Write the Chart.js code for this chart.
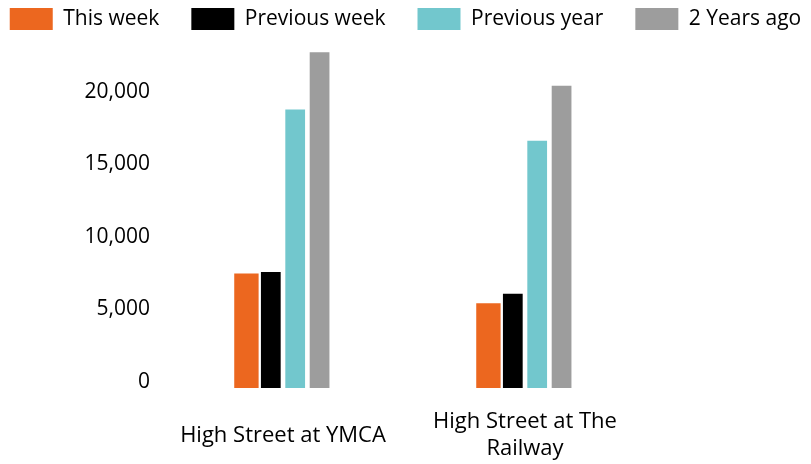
<!DOCTYPE html>
<html>
<head>
<meta charset="utf-8">
<script src="https://cdn.jsdelivr.net/npm/chart.js@4.4.1/dist/chart.umd.min.js"></script>
<style>
  html, body { margin: 0; padding: 0; background: #fff; }
  #wrap { width: 811px; height: 464px; }
</style>
</head>
<body>
<div id="wrap"><canvas id="chart"></canvas></div>
<script>
// counts per location
const categories = ['High Street at YMCA', ['High Street at The', 'Railway']];
const seriesNames = ['This week', 'Previous week', 'Previous year', '2 Years ago'];
const thisWeek = [7900, 5850];
const previousWeek = [8000, 6500];
const previousYear = [19200, 17050];
const twoYearsAgo = [23150, 20850];
const yTicks = [0, 5000, 10000, 15000, 20000];

const COLORS = ['#EC671F', '#000000', '#72C7CD', '#9D9D9D'];
const FONT = 'Open Sans';

const seriesValues = [thisWeek, previousWeek, previousYear, twoYearsAgo];

const datasets = seriesNames.map((name, i) => ({
  label: name,
  data: seriesValues[i],
  backgroundColor: COLORS[i],
  borderWidth: 0,
  categoryPercentage: 0.403,
  barPercentage: i === 0 ? 1.0 : 0.81
}));

new Chart(document.getElementById('chart'), {
  type: 'bar',
  data: { labels: categories, datasets },
  options: {
    responsive: true,
    maintainAspectRatio: false,
    animation: false,
    layout: { padding: { top: -24, left: -30, right: -30, bottom: 0 } },
    plugins: {
      tooltip: { enabled: false },
      legend: {
        position: 'top',
        align: 'center',
        labels: {
          boxWidth: 43,
          boxHeight: 22,
          padding: 32,
          color: '#000',
          font: { family: FONT, size: 21 }
        }
      }
    },
    scales: {
      x: {
        grid: { display: false, drawTicks: false },
        border: { display: false },
        ticks: {
          color: '#000',
          font: { family: FONT, size: 22, lineHeight: 1.23 },
          maxRotation: 0,
          autoSkip: false,
          crossAlign: 'center',
          padding: 34
        },
        afterFit: s => { s.height = 76; }
      },
      y: {
        min: 0,
        max: 24000,
        grid: { display: false, drawTicks: false },
        border: { display: false },
        afterBuildTicks: s => { s.ticks = yTicks.map(v => ({ value: v })); },
        ticks: {
          color: '#000',
          font: { family: FONT, size: 21 },
          padding: 12,
          labelOffset: -6,
          callback: v => v.toLocaleString('en-US')
        },
        afterFit: s => { s.width = 192; }
      },
      spacer: {
        type: 'linear',
        position: 'right',
        grid: { display: false, drawTicks: false },
        border: { display: false },
        ticks: { display: false },
        afterFit: s => { s.width = 195; }
      }
    }
  }
});
</script>
</body>
</html>
